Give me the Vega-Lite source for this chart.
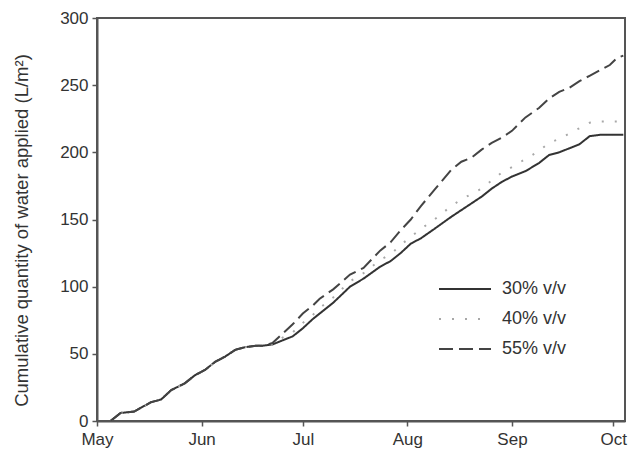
{
  "$schema": "https://vega.github.io/schema/vega-lite/v6.json",
  "autosize": "none",
  "padding": {"left": 97, "top": 18, "right": 14, "bottom": 38},
  "width": 528,
  "height": 403,
  "background": "white",
  "data": {
    "values": [
      {"date": "2009-05-05", "30% v/v": 0, "40% v/v": 0, "55% v/v": 0},
      {"date": "2009-05-08", "30% v/v": 6, "40% v/v": 6, "55% v/v": 6},
      {"date": "2009-05-12", "30% v/v": 7, "40% v/v": 7, "55% v/v": 7},
      {"date": "2009-05-17", "30% v/v": 14, "40% v/v": 14, "55% v/v": 14},
      {"date": "2009-05-20", "30% v/v": 16, "40% v/v": 16, "55% v/v": 16},
      {"date": "2009-05-23", "30% v/v": 23, "40% v/v": 23, "55% v/v": 23},
      {"date": "2009-05-27", "30% v/v": 28, "40% v/v": 28, "55% v/v": 28},
      {"date": "2009-05-30", "30% v/v": 34, "40% v/v": 34, "55% v/v": 34},
      {"date": "2009-06-02", "30% v/v": 38, "40% v/v": 38, "55% v/v": 38},
      {"date": "2009-06-05", "30% v/v": 44, "40% v/v": 44, "55% v/v": 44},
      {"date": "2009-06-08", "30% v/v": 48, "40% v/v": 48, "55% v/v": 48},
      {"date": "2009-06-11", "30% v/v": 53, "40% v/v": 53, "55% v/v": 53},
      {"date": "2009-06-14", "30% v/v": 55, "40% v/v": 55, "55% v/v": 55},
      {"date": "2009-06-17", "30% v/v": 56, "40% v/v": 56, "55% v/v": 56},
      {"date": "2009-06-19", "30% v/v": 56, "40% v/v": 56, "55% v/v": 56},
      {"date": "2009-06-22", "30% v/v": 57, "40% v/v": 57, "55% v/v": 58},
      {"date": "2009-06-25", "30% v/v": 60, "40% v/v": 62, "55% v/v": 65},
      {"date": "2009-06-28", "30% v/v": 63, "40% v/v": 66, "55% v/v": 72},
      {"date": "2009-07-01", "30% v/v": 69, "40% v/v": 73, "55% v/v": 80},
      {"date": "2009-07-04", "30% v/v": 76, "40% v/v": 79, "55% v/v": 86},
      {"date": "2009-07-06", "30% v/v": 80, "40% v/v": 84, "55% v/v": 91},
      {"date": "2009-07-10", "30% v/v": 88, "40% v/v": 92, "55% v/v": 98},
      {"date": "2009-07-15", "30% v/v": 100, "40% v/v": 104, "55% v/v": 109},
      {"date": "2009-07-19", "30% v/v": 106, "40% v/v": 110, "55% v/v": 114},
      {"date": "2009-07-24", "30% v/v": 115, "40% v/v": 120, "55% v/v": 127},
      {"date": "2009-07-27", "30% v/v": 119, "40% v/v": 124, "55% v/v": 133},
      {"date": "2009-07-30", "30% v/v": 125, "40% v/v": 131, "55% v/v": 142},
      {"date": "2009-08-02", "30% v/v": 132, "40% v/v": 137, "55% v/v": 150},
      {"date": "2009-08-05", "30% v/v": 136, "40% v/v": 143, "55% v/v": 160},
      {"date": "2009-08-09", "30% v/v": 143, "40% v/v": 150, "55% v/v": 172},
      {"date": "2009-08-14", "30% v/v": 152, "40% v/v": 160, "55% v/v": 187},
      {"date": "2009-08-17", "30% v/v": 157, "40% v/v": 165, "55% v/v": 193},
      {"date": "2009-08-20", "30% v/v": 162, "40% v/v": 169, "55% v/v": 196},
      {"date": "2009-08-23", "30% v/v": 167, "40% v/v": 173, "55% v/v": 202},
      {"date": "2009-08-26", "30% v/v": 173, "40% v/v": 179, "55% v/v": 207},
      {"date": "2009-08-29", "30% v/v": 178, "40% v/v": 185, "55% v/v": 211},
      {"date": "2009-09-01", "30% v/v": 182, "40% v/v": 189, "55% v/v": 216},
      {"date": "2009-09-05", "30% v/v": 186, "40% v/v": 195, "55% v/v": 226},
      {"date": "2009-09-09", "30% v/v": 192, "40% v/v": 201, "55% v/v": 233},
      {"date": "2009-09-12", "30% v/v": 198, "40% v/v": 207, "55% v/v": 240},
      {"date": "2009-09-15", "30% v/v": 200, "40% v/v": 210, "55% v/v": 245},
      {"date": "2009-09-18", "30% v/v": 203, "40% v/v": 214, "55% v/v": 248},
      {"date": "2009-09-21", "30% v/v": 206, "40% v/v": 218, "55% v/v": 253},
      {"date": "2009-09-24", "30% v/v": 212, "40% v/v": 222, "55% v/v": 257},
      {"date": "2009-09-27", "30% v/v": 213, "40% v/v": 223, "55% v/v": 261},
      {"date": "2009-09-30", "30% v/v": 213, "40% v/v": 223, "55% v/v": 265},
      {"date": "2009-10-02", "30% v/v": 213, "40% v/v": 223, "55% v/v": 270},
      {"date": "2009-10-04", "30% v/v": 213, "40% v/v": 223, "55% v/v": 272}
    ]
  },
  "transform": [
    {"fold": ["30% v/v", "40% v/v", "55% v/v"], "as": ["series", "value"]}
  ],
  "mark": {"type": "line", "strokeWidth": 2, "clip": true},
  "encoding": {
    "x": {
      "field": "date",
      "type": "temporal",
      "scale": {
        "type": "utc",
        "domain": [
          {"year": 2009, "month": 5, "date": 1, "utc": true},
          {"year": 2009, "month": 10, "date": 4, "hours": 12, "utc": true}
        ]
      },
      "axis": {
        "title": null,
        "labelExpr": "utcFormat(datum.value, '%b')",
        "values": [
          {"year": 2009, "month": 5, "date": 1, "utc": true},
          {"year": 2009, "month": 6, "date": 1, "utc": true},
          {"year": 2009, "month": 7, "date": 1, "utc": true},
          {"year": 2009, "month": 8, "date": 1, "utc": true},
          {"year": 2009, "month": 9, "date": 1, "utc": true},
          {"year": 2009, "month": 10, "date": 1, "utc": true}
        ],
        "labelPadding": 5,
        "labelFlush": false
      }
    },
    "y": {
      "field": "value",
      "type": "quantitative",
      "scale": {"domain": [0, 300], "nice": false},
      "axis": {
        "title": "Cumulative quantity of water applied (L/m²)",
        "values": [0, 50, 100, 150, 200, 250, 300],
        "titleX": -76,
        "titleY": 212,
        "titleAngle": -90,
        "titleAlign": "center",
        "titleBaseline": "middle",
        "titleFontSize": 18.5,
        "titleFontWeight": "normal",
        "labelPadding": 4
      }
    },
    "color": {
      "field": "series",
      "type": "nominal",
      "scale": {
        "domain": ["30% v/v", "40% v/v", "55% v/v"],
        "range": ["#333333", "#a8a8a8", "#444444"]
      },
      "legend": {
        "title": null,
        "orient": "none",
        "legendX": 354,
        "legendY": 257,
        "symbolType": "M-2,0H2",
        "symbolSize": 676,
        "symbolStrokeWidth": 2,
        "labelFontSize": 18,
        "labelColor": "#333333",
        "labelOffset": 23,
        "rowPadding": 7,
        "padding": 0
      }
    },
    "strokeDash": {
      "field": "series",
      "type": "nominal",
      "scale": {
        "domain": ["30% v/v", "40% v/v", "55% v/v"],
        "range": [[1, 0], [2, 11], [14, 6]]
      },
      "legend": null
    }
  },
  "config": {
    "font": "Liberation Sans",
    "view": {"stroke": "#555555", "strokeWidth": 2},
    "axis": {
      "grid": false,
      "domainColor": "#555555",
      "domainWidth": 2,
      "tickColor": "#555555",
      "tickSize": 5,
      "tickWidth": 1.5,
      "labelFontSize": 17,
      "labelColor": "#333333",
      "titleColor": "#333333",
      "labelFont": "Liberation Sans",
      "titleFont": "Liberation Sans"
    },
    "legend": {"labelFont": "Liberation Sans"}
  }
}
